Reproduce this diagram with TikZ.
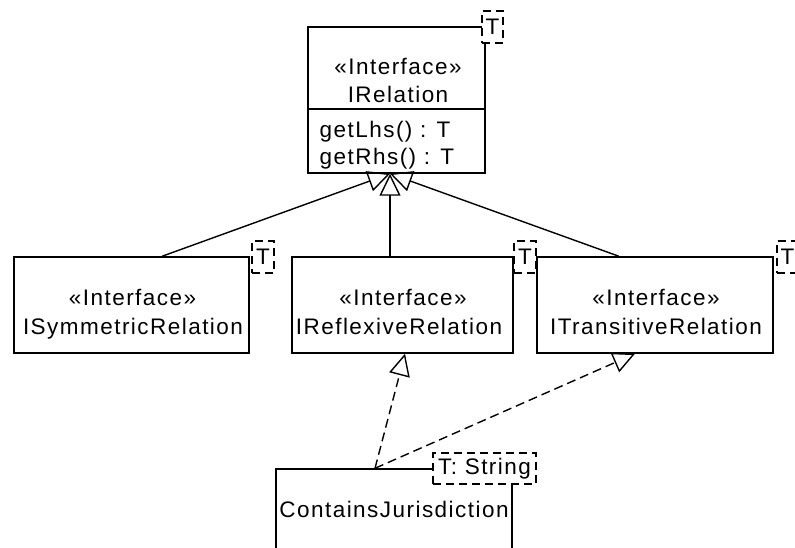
\documentclass[tikz,border=0pt]{standalone}
\usepackage{fontspec}
\setmainfont{Liberation Sans}[LetterSpace=6.5]
\usetikzlibrary{arrows.meta}
\begin{document}
\begin{tikzpicture}[x=1pt,y=-1pt, line width=1.4pt,
  cls/.style={draw, fill=white, inner sep=0pt},
  tparam/.style={draw, dash pattern=on 8pt off 5pt, fill=white, inner sep=0pt, font=\fontsize{22.5}{26}\selectfont},
  lbl/.style={anchor=base, inner sep=0pt, font=\fontsize{22.5}{26}\selectfont},
  lbll/.style={anchor=base west, inner sep=0pt, font=\fontsize{22.5}{26}\selectfont},
  gen/.style={-{Triangle[open, length=22pt, width=21pt]}},
  real/.style={dash pattern=on 9pt off 5pt, -{Triangle[open, length=22pt, width=21pt]}}]
\useasboundingbox (0,0) rectangle (795,548);
\begin{scope}
\clip (0,0) rectangle (795,548);
% IRelation
\node[cls, minimum width=177pt, minimum height=146pt] (rel) at (396.5,100) {};
\draw (rel.west |- 0,109) -- (rel.east |- 0,109);
\node[lbl] (relst) at (398,75) {«Interface»};
\node[lbl] (relnm) at (398,103) {IRelation};
\node[lbll] (relm1) at (319,138) {getLhs() : T};
\node[lbll] (relm2) at (319,165) {getRhs() : T};
\node[tparam, minimum width=21pt, minimum height=32pt] (relT) at (492.5,27) {T};
% ISymmetricRelation
\node[cls, minimum width=235pt, minimum height=96pt] (sym) at (131.5,305) {};
\node[lbl] (symst) at (132.5,305) {«Interface»};
\node[lbl] (symnm) at (133,334) {ISymmetricRelation};
\node[tparam, minimum width=22pt, minimum height=32pt] (symT) at (263,257) {T};
% IReflexiveRelation
\node[cls, minimum width=221pt, minimum height=96pt] (ref) at (402.5,305) {};
\node[lbl] (refst) at (403,305) {«Interface»};
\node[lbl] (refnm) at (399,334) {IReflexiveRelation};
\node[tparam, minimum width=22pt, minimum height=32pt] (refT) at (525,257) {T};
% ITransitiveRelation
\node[cls, minimum width=236pt, minimum height=96pt] (tra) at (655,305) {};
\node[lbl] (trast) at (656,305) {«Interface»};
\node[lbl] (tranm) at (656,334) {ITransitiveRelation};
\node[tparam, minimum width=21pt, minimum height=32pt] (traT) at (787.5,257) {T};
% ContainsJurisdiction
\node[cls, minimum width=236pt, minimum height=83pt] (con) at (394,510.5) {};
\node[lbl] (connm) at (394,517) {ContainsJurisdiction};
\node[tparam, minimum width=103pt, minimum height=31pt] (conT) at (484.5,468.5) {T: String};
% generalizations
\draw[gen] ([xshift=-131.5pt+162pt]sym.north) -- ([xshift=-6.5pt]rel.south);
\draw[gen] ([xshift=-12.5pt]ref.north) -- ([xshift=-6.5pt]rel.south);
\draw[gen] ([xshift=-36pt]tra.north) -- ([xshift=-6.5pt]rel.south);
% realizations
\draw[real] ([xshift=-19pt]con.north) -- ([xshift=2.5pt]ref.south);
\draw[real] ([xshift=-19pt]con.north) -- ([xshift=-20pt]tra.south);
\end{scope}
\end{tikzpicture}
\end{document}
